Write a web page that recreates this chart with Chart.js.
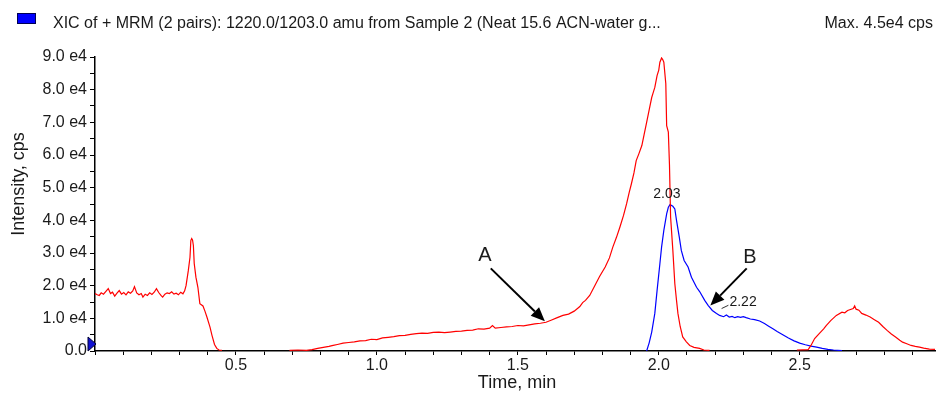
<!DOCTYPE html>
<html>
<head>
<meta charset="utf-8">
<script src="https://cdn.jsdelivr.net/npm/chart.js@4.4.1/dist/chart.umd.min.js"></script>
<style>
  html, body { margin: 0; padding: 0; background: #fff; }
  #wrap { width: 936px; height: 393px; }
</style>
</head>
<body>
<div id="wrap"><canvas id="c" width="936" height="393"></canvas></div>
<script>
// ---- Data (intensity in units of 1e4 cps, time in min) ----
const redTime = [
  0.000,0.008,0.015,0.022,0.030,0.038,0.047,0.055,0.062,0.070,0.078,0.086,0.094,0.102,0.110,0.118,0.126,0.134,0.140,0.148,
  0.156,0.164,0.170,0.178,0.186,0.194,0.202,0.210,0.218,0.226,0.234,0.240,0.248,0.256,0.264,0.272,0.280,0.288,0.296,0.304,
  0.312,0.318,0.323,0.331,0.337,0.340,0.343,0.346,0.349,0.352,0.358,0.365,0.372,0.383,0.390,0.397,0.408,0.415,0.424,0.432,
  0.440,0.450,0.460,
  0.690,0.720,0.750,0.770,0.790,0.810,0.830,0.845,0.860,0.880,0.900,0.920,0.940,0.960,0.980,1.000,1.020,1.040,1.060,1.080,
  1.100,1.120,1.140,1.160,1.180,1.200,1.220,1.240,1.260,1.280,1.300,1.320,1.340,1.360,1.380,1.400,1.410,1.420,1.440,1.460,
  1.480,1.500,1.520,1.540,1.560,1.580,1.600,1.620,1.640,1.660,1.680,1.700,1.720,1.730,1.740,1.755,1.773,1.790,1.810,1.825,
  1.837,1.850,1.862,1.875,1.886,1.895,1.903,1.912,1.920,1.930,1.940,1.948,1.957,1.966,1.975,1.980,1.986,1.994,2.000,2.004,
  2.010,2.014,2.018,2.025,2.028,2.034,2.038,2.042,2.050,2.057,2.063,2.068,2.076,2.085,2.098,2.110,2.125,2.145,2.160,2.180,
  2.190,
  2.490,2.530,2.540,2.553,2.570,2.585,2.594,2.610,2.630,2.650,2.660,2.670,2.680,2.690,2.695,2.700,2.710,2.720,2.735,2.750,
  2.765,2.780,2.795,2.810,2.825,2.840,2.855,2.865,2.880,2.895,2.910,2.925,2.940,2.960,2.980
];
const redIntensity = [
  1.76,1.72,1.70,1.78,1.74,1.82,1.91,1.76,1.80,1.68,1.77,1.85,1.74,1.79,1.72,1.81,1.77,1.84,1.97,1.78,
  1.72,1.76,1.65,1.74,1.70,1.78,1.73,1.80,1.91,1.79,1.70,1.65,1.74,1.78,1.76,1.81,1.74,1.77,1.72,1.80,
  1.75,1.84,2.00,2.46,2.87,3.38,3.44,3.40,3.23,2.68,2.26,1.95,1.45,1.38,1.22,1.04,0.73,0.48,0.20,0.08,
  0.03,0.02,null,
  0.02,0.03,0.02,0.04,0.08,0.11,0.14,0.17,0.20,0.24,0.26,0.28,0.31,0.32,0.36,0.35,0.40,0.42,0.44,0.47,
  0.48,0.51,0.53,0.55,0.54,0.57,0.58,0.56,0.58,0.60,0.61,0.63,0.64,0.68,0.67,0.70,0.78,0.70,0.72,0.74,
  0.75,0.78,0.77,0.80,0.83,0.85,0.88,0.95,1.02,1.09,1.13,1.22,1.36,1.48,1.55,1.70,2.00,2.28,2.57,2.85,
  3.18,3.48,3.79,4.15,4.51,4.85,5.12,5.45,5.83,6.05,6.29,6.62,7.00,7.38,7.76,7.90,8.07,8.43,8.60,8.84,
  8.97,8.92,8.84,8.18,6.90,6.70,5.70,4.10,3.08,2.06,1.55,1.15,0.75,0.43,0.28,0.17,0.11,0.08,0.03,0.02,
  null,
  0.03,0.04,0.17,0.38,0.54,0.68,0.78,0.93,1.09,1.19,1.17,1.24,1.27,1.30,1.38,1.28,1.25,1.15,1.10,1.04,
  0.96,0.88,0.75,0.63,0.52,0.43,0.33,0.27,0.22,0.17,0.14,0.12,0.09,0.06,0.05
];
const blueTime = [
  1.957,1.966,1.975,1.986,1.994,2.004,2.010,2.018,2.028,2.034,2.040,2.050,2.057,2.063,2.073,2.080,2.090,2.104,2.116,2.134,
  2.145,2.163,2.175,2.190,2.205,2.216,2.230,2.240,2.250,2.260,2.270,2.280,2.290,2.300,2.310,2.325,2.340,2.358,2.375,2.390,
  2.405,2.420,2.440,2.460,2.480,2.500,2.520,2.540,2.560,2.580,2.600,2.620,2.650
];
const blueIntensity = [
  0.00,0.25,0.58,1.15,1.85,2.67,3.18,3.69,4.20,4.40,4.48,4.43,4.35,4.00,3.48,3.08,2.77,2.57,2.26,1.95,
  1.82,1.55,1.40,1.24,1.15,1.09,1.05,1.10,1.04,1.06,1.02,1.05,1.03,1.05,1.02,0.98,0.96,0.92,0.84,0.76,
  0.68,0.60,0.50,0.40,0.31,0.24,0.19,0.15,0.12,0.08,0.05,0.03,0.01
];
const xTickLabels = { 0.5: '0.5', 1.0: '1.0', 1.5: '1.5', 2.0: '2.0', 2.5: '2.5' };
const yTickLabels = ['0.0','1.0 e4','2.0 e4','3.0 e4','4.0 e4','5.0 e4','6.0 e4','7.0 e4','8.0 e4','9.0 e4'];
const legendText = 'XIC of + MRM (2 pairs): 1220.0/1203.0 amu from Sample 2 (Neat 15.6 ACN-water g...';
const maxText = 'Max. 4.5e4 cps';
const xTitle = 'Time, min';
const yTitle = 'Intensity, cps';
// annotations in data coordinates
const peakLabels = [ { text: '2.03', x: 2.029, y: 4.79 }, { text: '2.22', x: 2.299, y: 1.50 } ];
const letterLabels = [ { text: 'A', x: 1.383, y: 2.92, fx: 1.404, fy: 2.53, tx: 1.596, ty: 0.91 },
                       { text: 'B', x: 2.323, y: 2.87, fx: 2.312, fy: 2.53, tx: 2.183, ty: 1.39 } ];

const FONT = '"Liberation Sans", Arial, Helvetica, sans-serif';
const TXT = '#1a1a1a';

const redData = redTime.map((t, i) => ({ x: t, y: redIntensity[i] }));
const blueData = blueTime.map((t, i) => ({ x: t, y: blueIntensity[i] }));

const decor = {
  id: 'decor',
  beforeDraw(chart) {
    const ctx = chart.ctx;
    ctx.save();
    ctx.fillStyle = '#fff';
    ctx.fillRect(0, 0, chart.width, chart.height);
    ctx.restore();
  },
  afterDraw(chart) {
    const ctx = chart.ctx;
    const xs = chart.scales.x, ys = chart.scales.y;
    ctx.save();
    // legend
    ctx.fillStyle = '#0000ff';
    ctx.fillRect(17, 13, 19, 11);
    ctx.strokeStyle = '#000055';
    ctx.lineWidth = 1;
    ctx.strokeRect(17.5, 13.5, 18, 10);
    ctx.fillStyle = TXT;
    ctx.font = '16px ' + FONT;
    ctx.textBaseline = 'middle';
    ctx.textAlign = 'left';
    ctx.fillText(legendText, 53, 24);
    ctx.textAlign = 'right';
    ctx.fillText(maxText, 933, 24);
    // axis titles
    ctx.font = '18px ' + FONT;
    ctx.textAlign = 'center';
    ctx.fillText(xTitle, 517, 383);
    ctx.save();
    ctx.translate(19, 184);
    ctx.rotate(-Math.PI / 2);
    ctx.fillText(yTitle, 0, 0);
    ctx.restore();
    // start marker (blue triangle)
    const y0 = ys.getPixelForValue(0);
    const xl = xs.left;
    ctx.beginPath();
    ctx.moveTo(xl - 7, y0 - 14);
    ctx.lineTo(xl + 1, y0 - 7);
    ctx.lineTo(xl - 7, y0);
    ctx.closePath();
    ctx.fillStyle = '#1010d0';
    ctx.fill();
    ctx.strokeStyle = '#000033';
    ctx.stroke();
    // peak labels
    ctx.fillStyle = TXT;
    ctx.font = '14px ' + FONT;
    ctx.textAlign = 'center';
    peakLabels.forEach(p => {
      ctx.fillText(p.text, xs.getPixelForValue(p.x), ys.getPixelForValue(p.y));
    });
    // leader for 2.22
    ctx.strokeStyle = '#333';
    ctx.lineWidth = 1;
    ctx.beginPath();
    ctx.moveTo(xs.getPixelForValue(2.223), ys.getPixelForValue(1.30));
    ctx.lineTo(xs.getPixelForValue(2.247), ys.getPixelForValue(1.40));
    ctx.stroke();
    // letters with arrows
    ctx.font = '20px ' + FONT;
    letterLabels.forEach(a => {
      ctx.fillStyle = TXT;
      ctx.fillText(a.text, xs.getPixelForValue(a.x), ys.getPixelForValue(a.y));
      const x1 = xs.getPixelForValue(a.fx), y1 = ys.getPixelForValue(a.fy);
      const x2 = xs.getPixelForValue(a.tx), y2 = ys.getPixelForValue(a.ty);
      const ang = Math.atan2(y2 - y1, x2 - x1);
      const L = 14, W = 6;
      const bx = x2 - L * Math.cos(ang), by = y2 - L * Math.sin(ang);
      ctx.strokeStyle = '#000';
      ctx.lineWidth = 2;
      ctx.beginPath();
      ctx.moveTo(x1, y1);
      ctx.lineTo(bx, by);
      ctx.stroke();
      ctx.fillStyle = '#000';
      ctx.beginPath();
      ctx.moveTo(x2, y2);
      ctx.lineTo(bx + W * Math.sin(ang), by - W * Math.cos(ang));
      ctx.lineTo(bx - W * Math.sin(ang), by + W * Math.cos(ang));
      ctx.closePath();
      ctx.fill();
    });
    ctx.restore();
  }
};

new Chart(document.getElementById('c'), {
  type: 'scatter',
  data: {
    datasets: [
      { label: 'red', data: redData, showLine: true, borderColor: '#ff0000', borderWidth: 1.2,
        pointRadius: 0, tension: 0, spanGaps: false, fill: false },
      { label: 'blue', data: blueData, showLine: true, borderColor: '#0000ff', borderWidth: 1.2,
        pointRadius: 0, tension: 0, spanGaps: false, fill: false }
    ]
  },
  options: {
    responsive: false,
    animation: false,
    devicePixelRatio: 1,
    layout: { padding: { top: 57, right: 1, left: 0, bottom: 0 } },
    plugins: { legend: { display: false }, tooltip: { enabled: false }, title: { display: false } },
    scales: {
      x: {
        type: 'linear', min: 0, max: 2.98,
        afterFit(s) { s.height = 42; },
        ticks: {
          stepSize: 0.1, includeBounds: false, autoSkip: false, maxRotation: 0, minRotation: 0,
          padding: 1, color: TXT, font: { family: FONT, size: 16 },
          callback(v) {
            const k = Math.round(v * 10) / 10;
            return xTickLabels[k] !== undefined && Math.abs(v - k) < 1e-6 ? xTickLabels[k] : '';
          }
        },
        grid: { display: true, drawOnChartArea: false, drawTicks: true, tickLength: 4, tickColor: '#000', tickWidth: 1 },
        border: { display: true, color: '#000', width: 1.5 }
      },
      y: {
        type: 'linear', min: 0, max: 9,
        afterFit(s) { s.width = 95; },
        ticks: {
          stepSize: 0.5, includeBounds: false, autoSkip: false, padding: 3, color: TXT,
          font: { family: FONT, size: 16 },
          callback(v) {
            const r = Math.round(v);
            return Math.abs(v - r) < 1e-6 ? yTickLabels[r] : '';
          }
        },
        grid: { display: true, drawOnChartArea: false, drawTicks: true, tickLength: 5, tickColor: '#000', tickWidth: 1 },
        border: { display: true, color: '#000', width: 1.5 }
      }
    }
  },
  plugins: [decor]
});
</script>
</body>
</html>
